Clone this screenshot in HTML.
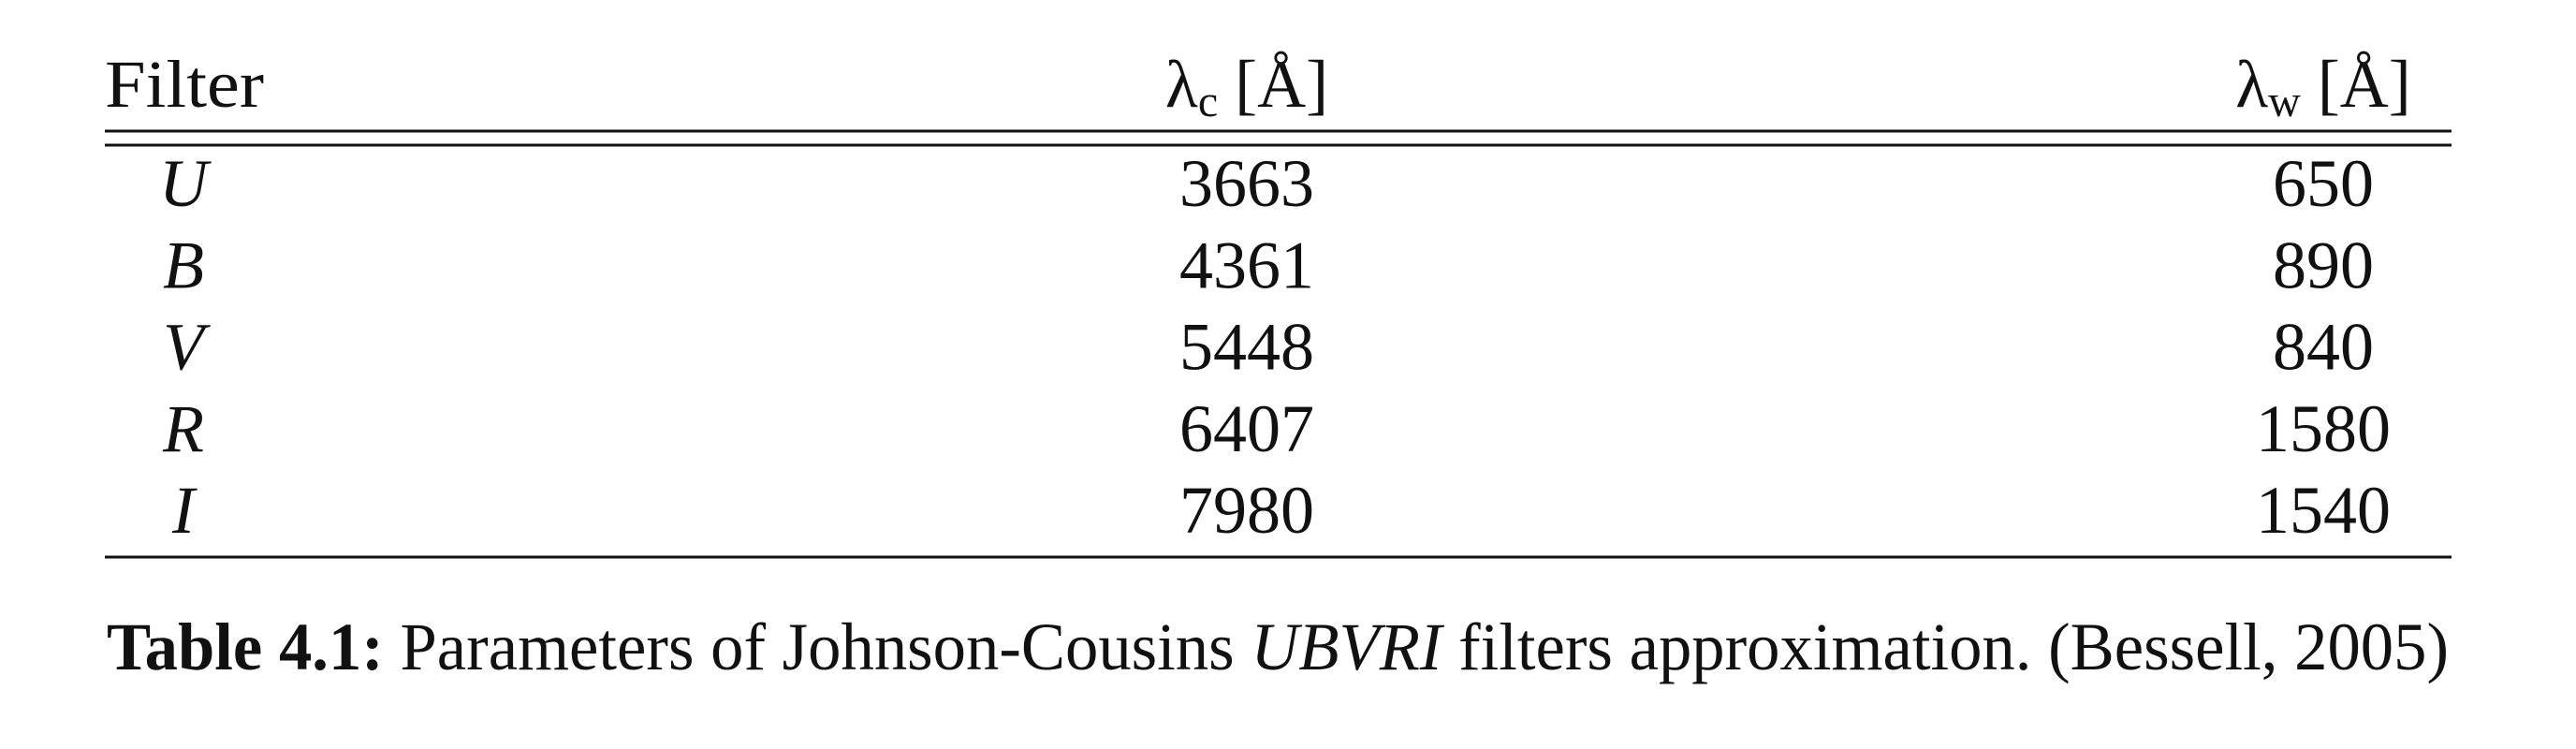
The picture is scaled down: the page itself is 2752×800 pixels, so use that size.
<!DOCTYPE html>
<html><head><meta charset="utf-8"><style>
html,body{margin:0;padding:0;background:#fff;}
svg{display:block;}
text{font-family:"Liberation Serif","DejaVu Serif",serif;fill:#111;font-size:72px;}
</style></head><body>
<svg width="2752" height="800" viewBox="0 0 2752 800">
  <text x="112" y="114" textLength="170" lengthAdjust="spacingAndGlyphs">Filter</text>
  <text x="1332" y="114" text-anchor="middle">λ<tspan font-size="48" dy="10">c</tspan><tspan dy="-10"> [Å]</tspan></text>
  <text x="2482" y="114" text-anchor="middle">λ<tspan font-size="48" dy="10">w</tspan><tspan dy="-10"> [Å]</tspan></text>
  <line x1="112" y1="140" x2="2619" y2="140" stroke="#111" stroke-width="3"/>
  <line x1="112" y1="155" x2="2619" y2="155" stroke="#111" stroke-width="3"/>
  <line x1="112" y1="595" x2="2619" y2="595" stroke="#111" stroke-width="3"/>
  <g id="rows"></g>
  <text x="114" y="715" textLength="2502" lengthAdjust="spacingAndGlyphs"><tspan font-weight="bold">Table 4.1:</tspan> Parameters of Johnson-Cousins <tspan font-style="italic">UBVRI</tspan> filters approximation. (Bessell, 2005)</text>
</svg>
<script>
const filters = ['U','B','V','R','I'];
const lambdaC = [3663, 4361, 5448, 6407, 7980];
const lambdaW = [650, 890, 840, 1580, 1540];
const NS = 'http://www.w3.org/2000/svg';
const g = document.getElementById('rows');
function rowY(i){ return 220 + i * 87.3; }
function mk(x, y, txt, italic){
  const t = document.createElementNS(NS, 'text');
  t.setAttribute('x', x);
  t.setAttribute('y', y);
  t.setAttribute('text-anchor', 'middle');
  if (italic) t.setAttribute('font-style', 'italic');
  t.textContent = txt;
  g.appendChild(t);
  return t;
}
filters.forEach((f, i) => {
  const y = rowY(i);
  const a = mk(196, y, f, true);
  
  
  const b = mk(1332, y, String(lambdaC[i]), false);
  
  
  const c = mk(2482, y, String(lambdaW[i]), false);
  
  
});
</script>
</body></html>
